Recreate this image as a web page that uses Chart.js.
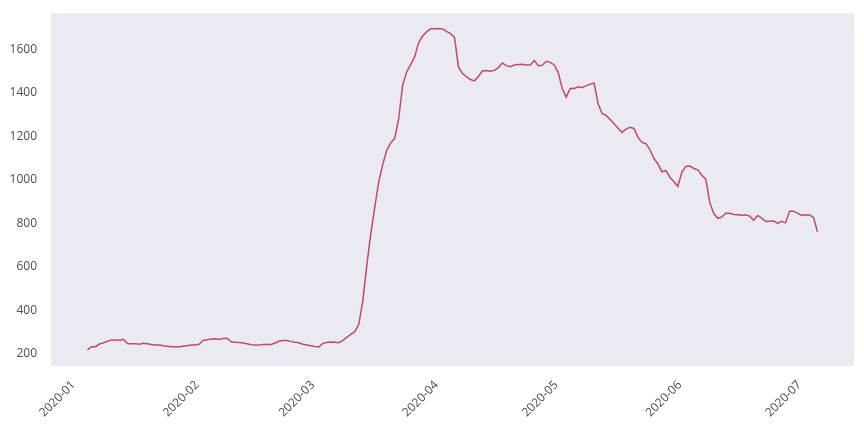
<!DOCTYPE html>
<html>
<head>
<meta charset="utf-8">
<script src="https://cdn.jsdelivr.net/npm/chart.js@4.4.1/dist/chart.umd.min.js"></script>
<style>
  body { margin: 0; background: #fff; }
  #chart { display: block; }
</style>
</head>
<body>
<canvas id="chart" width="864" height="432"></canvas>
<script>
// daily values, 2020-01-01 .. 2020-07-02
const startDate = "2020-01-01";
const values = [
  218, 232, 233, 245, 251, 258, 264, 263, 262, 267,
  247, 246, 246, 244, 249, 246, 243, 241, 240, 237,
  235, 233, 233, 233, 235, 237, 241, 241, 244, 262,
  265, 268, 269, 266, 271, 272, 255, 253, 252, 250,
  246, 242, 240, 240, 243, 243, 243, 250, 258, 261,
  261, 256, 253, 251, 244, 241, 237, 234, 232, 248,
  252, 254, 253, 251, 262, 276, 289, 302, 335, 440,
  604, 750, 872, 990, 1070, 1135, 1169, 1190, 1280, 1435,
  1495, 1530, 1565, 1630, 1661, 1680, 1695, 1694, 1696, 1694,
  1682, 1672, 1655, 1519, 1489, 1474, 1461, 1455, 1475, 1500,
  1502, 1499, 1503, 1516, 1537, 1525, 1520, 1528, 1530, 1531,
  1528, 1528, 1549, 1525, 1527, 1545, 1540, 1528, 1493, 1420,
  1380, 1420, 1420, 1428, 1424, 1432, 1440, 1444, 1350, 1305,
  1296, 1278, 1258, 1237, 1218, 1233, 1241, 1236, 1195, 1172,
  1166, 1138, 1098, 1073, 1037, 1042, 1012, 991, 970, 1036,
  1061, 1063, 1052, 1046, 1021, 1003, 895, 845, 823, 829,
  846, 846, 841, 839, 837, 839, 833, 814, 836, 824,
  808, 810, 811, 800, 809, 802, 856, 856, 847, 836,
  839, 838, 827, 761
];

const monthTicks = ["2020-01", "2020-02", "2020-03", "2020-04", "2020-05", "2020-06", "2020-07"];
const yTicks = [200, 400, 600, 800, 1000, 1200, 1400, 1600];

// day offset from start for each tick label
const dayOf = s => Math.round((new Date(s + "-01") - new Date(startDate)) / 86400000);
const points = values.map((v, i) => ({ x: i, y: v }));
const lastDay = values.length - 1;
const xPad = lastDay * 0.05;

const bgPlugin = {
    id: 'bg',
    beforeDraw(chart) {
        const { ctx, chartArea: a } = chart;
        ctx.save();
        ctx.fillStyle = '#EAEAF2';
        ctx.fillRect(a.left, a.top, a.right - a.left, a.bottom - a.top);
        ctx.restore();
    }
};

const tickFont = { family: "'Open Sans', 'DejaVu Sans', sans-serif", size: 12 };

new Chart(document.getElementById('chart'), {
    type: 'line',
    data: {
        datasets: [{
            data: points,
            borderColor: '#C94862',
            borderWidth: 1.5,
            pointRadius: 0,
            tension: 0,
            fill: false
        }]
    },
    options: {
        responsive: false,
        animation: false,
        layout: { padding: { top: 10, right: 10, left: 0, bottom: 0 } },
        plugins: { legend: { display: false }, tooltip: { enabled: false } },
        scales: {
            x: {
                type: 'linear',
                min: -xPad,
                max: lastDay + xPad,
                grid: { display: false },
                border: { display: false },
                afterBuildTicks: s => { s.ticks = monthTicks.map(m => ({ value: dayOf(m) })); },
                afterFit: s => { s.height = 66; },
                ticks: {
                    color: '#4d4d4d',
                    font: tickFont,
                    minRotation: 45,
                    maxRotation: 45,
                    padding: 4,
                    labelOffset: -14,
                    callback: v => monthTicks.find(m => dayOf(m) === v) || ''
                }
            },
            y: {
                min: 144,
                max: 1766,
                grid: { display: false },
                border: { display: false },
                afterBuildTicks: s => { s.ticks = yTicks.map(v => ({ value: v })); },
                afterFit: s => { s.width = 51; },
                ticks: {
                    color: '#4d4d4d',
                    font: tickFont,
                    padding: 6,
                    callback: v => String(v)
                }
            }
        }
    },
    plugins: [bgPlugin]
});
</script>
</body>
</html>
